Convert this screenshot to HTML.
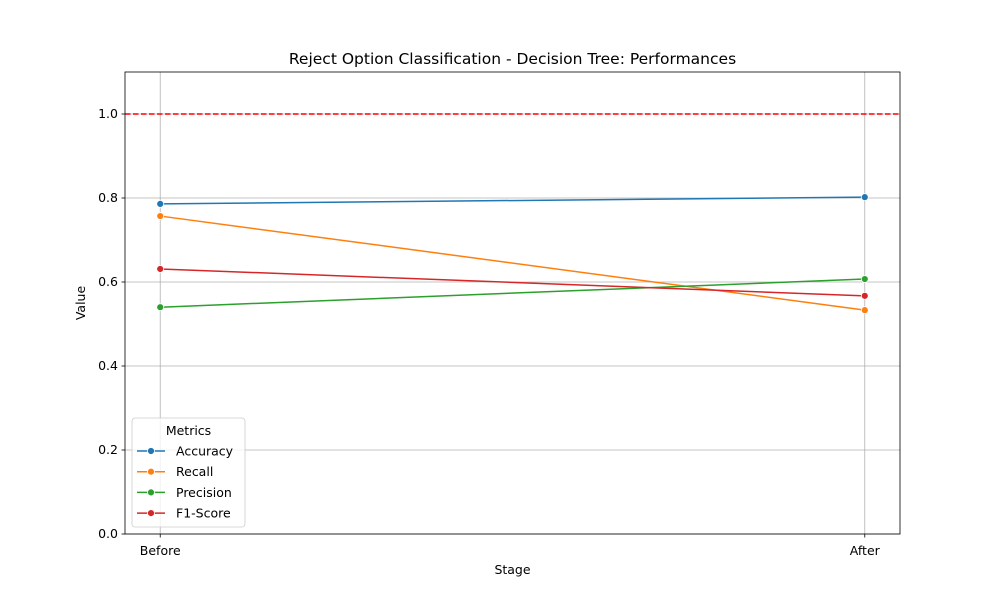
<!DOCTYPE html>
<html><head><meta charset="utf-8"><style>
body{margin:0;background:#fff;font-family:"Liberation Sans","DejaVu Sans",sans-serif;}
svg text{font-family:"DejaVu Sans","Liberation Sans",sans-serif;}
</style></head><body>
<svg id="chart" width="1000" height="600" xmlns="http://www.w3.org/2000/svg"></svg>
<script>
const categories = ["Before", "After"];
const accuracy = [0.786, 0.802];
const recall = [0.757, 0.533];
const precision = [0.540, 0.607];
const f1score = [0.631, 0.567];
const yTicks = [0.0, 0.2, 0.4, 0.6, 0.8, 1.0];
const seriesNames = ["Accuracy", "Recall", "Precision", "F1-Score"];
const seriesColors = ["#1f77b4", "#ff7f0e", "#2ca02c", "#d62728"];
const seriesData = [accuracy, recall, precision, f1score];

const L=125,R=900,T=72,B=534;
const x = i => L + (i + 0.05) / 1.1 * (R - L);
const y = v => B - v / 1.1 * (B - T);
const NS="http://www.w3.org/2000/svg";
const svg=document.getElementById('chart');
function mk(tag,attrs,parent){const e=document.createElementNS(NS,tag);for(const k in attrs)e.setAttribute(k,attrs[k]);(parent||svg).appendChild(e);return e;}

// grid
yTicks.forEach(t=>{
  const g=mk('line',{x1:L,x2:R,y1:y(t),y2:y(t),stroke:'#b0b0b0','stroke-width':0.8});
  
  
  mk('line',{x1:L-3.5,x2:L,y1:y(t),y2:y(t),stroke:'#000','stroke-width':0.8});
  const tx=mk('text',{x:L-7,y:y(t)+4,'text-anchor':'end','font-size':12.5});
  tx.textContent=t.toFixed(1);
  
  
});
categories.forEach((c,i)=>{
  const g=mk('line',{x1:x(i),x2:x(i),y1:T,y2:B,stroke:'#b0b0b0','stroke-width':0.8});
  
  
  mk('line',{x1:x(i),x2:x(i),y1:B,y2:B+3.5,stroke:'#000','stroke-width':0.8});
  const tx=mk('text',{x:x(i),y:B+21,'text-anchor':'middle','font-size':12.5});
  tx.textContent=c;
  
  
});
// reference line
const ref=mk('line',{x1:L,x2:R,y1:y(1.0),y2:y(1.0),stroke:'#ff0000','stroke-width':1.5,'stroke-dasharray':'5.5,2.5'});



// series
seriesData.forEach((d,s)=>{
  const p=mk('polyline',{points:d.map((v,i)=>x(i)+','+y(v)).join(' '),fill:'none',stroke:seriesColors[s],'stroke-width':1.5});
  
  
  d.forEach((v,i)=>{
    const c=mk('circle',{cx:x(i),cy:y(v),r:3.5,fill:seriesColors[s],stroke:'#fff','stroke-width':0.8});
    
    
  });
});

// frame
const fr=mk('rect',{x:L,y:T,width:R-L,height:B-T,fill:'none',stroke:'#000','stroke-width':0.8});



// titles
const ti=mk('text',{x:(L+R)/2,y:64,'text-anchor':'middle','font-size':15.5});
ti.textContent='Reject Option Classification - Decision Tree: Performances';


const xl=mk('text',{x:(L+R)/2,y:574,'text-anchor':'middle','font-size':12.5});
xl.textContent='Stage';


const yl=mk('text',{x:0,y:0,'text-anchor':'middle','font-size':12.5,transform:`translate(85,${(T+B)/2}) rotate(-90)`});
yl.textContent='Value';



// legend
const lg=mk('g',{});


mk('rect',{x:132,y:418,width:113,height:109,rx:3,fill:'#fff','fill-opacity':0.8,stroke:'#ccc','stroke-width':0.8},lg);
const lt=mk('text',{x:188.5,y:435,'text-anchor':'middle','font-size':12.5},lg);
lt.textContent='Metrics';
seriesNames.forEach((n,s)=>{
  const yy=451+s*20.7;
  const e=mk('g',{},lg);
  
  
  mk('line',{x1:137,x2:165,y1:yy,y2:yy,stroke:seriesColors[s],'stroke-width':1.5},e);
  mk('circle',{cx:151,cy:yy,r:3.5,fill:seriesColors[s],stroke:'#fff','stroke-width':0.8},e);
  const t=mk('text',{x:176,y:yy+4.5,'font-size':12.5},e);
  t.textContent=n;
});
</script>
</body></html>
